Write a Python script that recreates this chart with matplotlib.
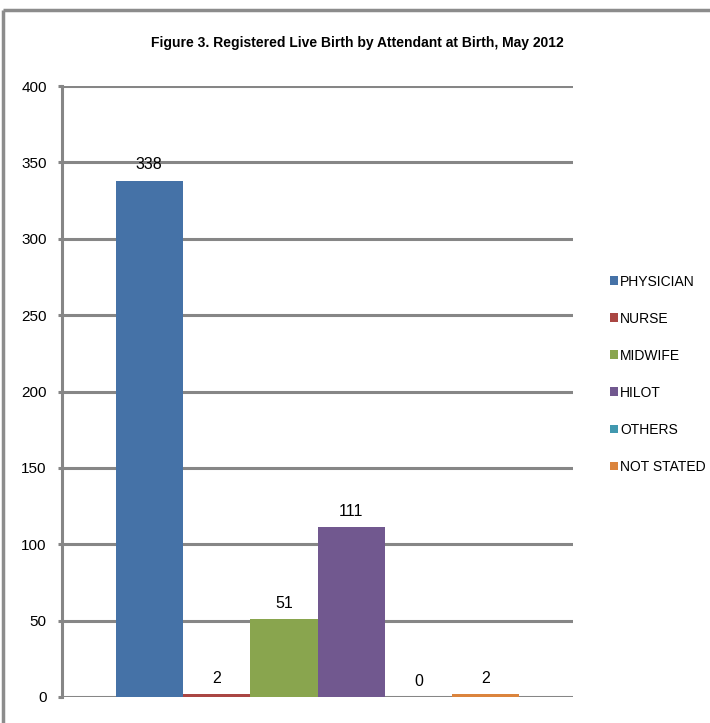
import matplotlib
matplotlib.use("Agg")
import matplotlib.pyplot as plt
from matplotlib.patches import Patch
from matplotlib.lines import Line2D

plt.rcParams['font.family'] = ['Liberation Sans Narrow', 'Liberation Sans', 'DejaVu Sans']

categories = ["PHYSICIAN", "NURSE", "MIDWIFE", "HILOT", "OTHERS", "NOT STATED"]
values = [338, 2, 51, 111, 0, 2]
colors = ["#4572A7", "#AA4643", "#89A54E", "#71588F", "#4198AF", "#DB843D"]
yticks = [0, 50, 100, 150, 200, 250, 300, 350, 400]
title = "Figure 3. Registered Live Birth by Attendant at Birth, May 2012"

W, H = 710, 723
fig = plt.figure(figsize=(W / 100, H / 100), dpi=100)
fig.patch.set_facecolor("white")

# outer frame (extends beyond the image on right and bottom)
fig.add_artist(Line2D([3 / W, 3 / W], [0, 1 - 10 / H], transform=fig.transFigure,
                      color="#8c8c8c", lw=2.5, solid_capstyle="butt"))
fig.add_artist(Line2D([3 / W, 1], [1 - 10 / H, 1 - 10 / H], transform=fig.transFigure,
                      color="#8c8c8c", lw=2.5, solid_capstyle="butt"))

ax = fig.add_axes([62 / W, 1 - 697 / H, (573 - 62) / W, (697 - 86) / H])

n = len(values)
bw = 1.0
gap = 1.5 * bw
xs = [i * bw for i in range(n)]
ax.bar(xs, values, width=bw, color=colors, align="edge", zorder=3)
for x, v in zip(xs, values):
    ax.annotate(str(v), (x + bw / 2, v), xytext=(0, 6), textcoords="offset points",
                ha="center", va="bottom", fontsize=11.5, zorder=4)

ax.set_xlim(-gap * 0.53, n * bw + gap * 0.53)
ax.set_ylim(0, 400)
ax.set_yticks(yticks)
ax.set_yticklabels([str(t) for t in yticks], fontsize=11)
ax.set_xticks([])
ax.yaxis.grid(True, color="#868686", lw=2.2, zorder=1)
ax.set_axisbelow(True)
for s in ["top", "right", "bottom"]:
    ax.spines[s].set_visible(False)
ax.spines["left"].set_color("#868686")
ax.spines["left"].set_linewidth(2.2)
ax.tick_params(axis="y", length=3, width=2.2, color="#868686", pad=8)

fig.text(357 / W, 1 - 43 / H, title, ha="center", va="center", fontsize=10, fontweight="bold")

handles = [Patch(facecolor=c, edgecolor="none") for c in colors]
leg = fig.legend(handles, categories, loc="upper left", bbox_to_anchor=(597 / W, 1 - 262 / H),
                 frameon=False, fontsize=10, handlelength=0.58, handleheight=0.58,
                 handletextpad=0.2, labelspacing=1.66)

fig.savefig("out.png", dpi=100, facecolor="white")
